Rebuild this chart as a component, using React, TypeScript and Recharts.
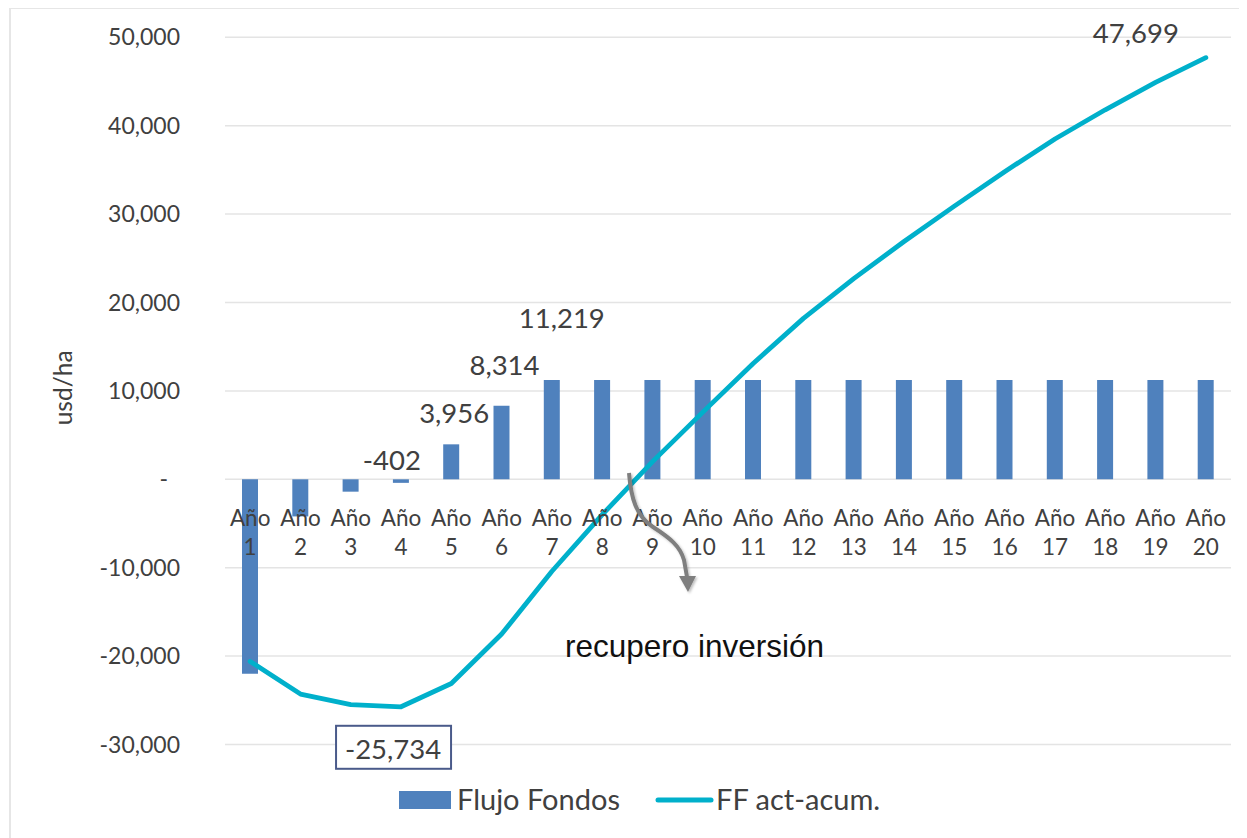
import React from 'react';
import { ComposedChart, Bar, Line, XAxis, YAxis, CartesianGrid, LabelList } from 'recharts';

const categories = [
  'Año 1', 'Año 2', 'Año 3', 'Año 4', 'Año 5', 'Año 6', 'Año 7', 'Año 8', 'Año 9', 'Año 10',
  'Año 11', 'Año 12', 'Año 13', 'Año 14', 'Año 15', 'Año 16', 'Año 17', 'Año 18', 'Año 19', 'Año 20',
];
const flujoFondos = [
  -22000, -4200, -1400, -402, 3956, 8314, 11219, 11219, 11219, 11219,
  11219, 11219, 11219, 11219, 11219, 11219, 11219, 11219, 11219, 11219,
];
const ffActAcum = [
  -20600, -24300, -25500, -25734, -23100, -17500, -10400, -4000, 2000, 7600,
  13100, 18200, 22700, 26900, 30900, 34800, 38500, 41800, 44900, 47699,
];
const yTicks = [-30000, -20000, -10000, 0, 10000, 20000, 30000, 40000, 50000];
const seriesNames = ['Flujo Fondos', 'FF act-acum.'];
const yTitle = 'usd/ha';
const annotationText = 'recupero inversión';

const data = categories.map((name, i) => ({
  name,
  flujo: flujoFondos[i],
  acum: ffActAcum[i],
  base: 0,
}));

const FONT = "Lato, 'Noto Sans', sans-serif";
const TEXT = '#404040';
const BAR = '#4F81BD';
const LINE = '#00B0CB';
const GRID = '#e4e4e4';

const fmt = (v: number) => v.toLocaleString('en-US');

const YTick = (props: any) => {
  const { x, y, payload } = props;
  const v = payload.value;
  return (
    <text x={v === 0 ? x - 12 : x} y={y} dy="0.355em" textAnchor="end" fontFamily={FONT} fontSize={23} fill={TEXT}>
      {v === 0 ? '-' : fmt(v)}
    </text>
  );
};

const CatLabel = (props: any) => {
  const { x, y, index } = props;
  const parts = categories[index].split(' ');
  return (
    <g>
      <text x={x} y={y + 47} textAnchor="middle" fontFamily={FONT} fontSize={22.5} fill={TEXT}>{parts[0]}</text>
      <text x={x} y={y + 76} textAnchor="middle" fontFamily={FONT} fontSize={22.5} fill={TEXT}>{parts[1]}</text>
    </g>
  );
};

const barLabelShift: Record<number, [number, number]> = { 3: [-9, 9], 4: [3, 21], 5: [3, 31], 6: [10, 52] };

const BarLabel = (props: any) => {
  const { x, y, width, height, value, index } = props;
  const s = barLabelShift[index];
  if (!s) return null;
  const top = Math.min(y, y + height);
  return (
    <text x={x + width / 2 + s[0]} y={top - s[1]} textAnchor="middle" fontFamily={FONT} fontSize={27.5} fill={TEXT}>
      {fmt(value)}
    </text>
  );
};

const AcumLabel = (props: any) => {
  const { x, y, value, index } = props;
  if (index === ffActAcum.length - 1) {
    return (
      <text x={x - 70} y={y - 15} textAnchor="middle" fontFamily={FONT} fontSize={27.5} fill={TEXT}>
        {fmt(value)}
      </text>
    );
  }
  if (value === Math.min(...ffActAcum)) {
    const cx = x - 8;
    return (
      <g>
        <rect x={cx - 57} y={y + 19} width={115} height={43} fill="#ffffff" stroke="#4A5A8A" strokeWidth={2} />
        <text x={cx} y={y + 52} textAnchor="middle" fontFamily={FONT} fontSize={27.5} fill={TEXT}>
          {fmt(value)}
        </text>
      </g>
    );
  }
  return null;
};

const YTitle = (props: any) => {
  const vb = props.viewBox;
  const cx = vb.x + 64;
  const cy = vb.y + vb.height / 2 - 3;
  return (
    <text transform={`translate(${cx},${cy}) rotate(-90)`} textAnchor="middle" fontFamily={FONT} fontSize={24.5} fill={TEXT}>
      {yTitle}
    </text>
  );
};

export default function App() {
  return (
    <div style={{ position: 'relative', width: 1239, height: 830 }}>
      <div
        style={{
          position: 'absolute', left: 1, top: -1, width: 1238, height: 840,
          borderTop: '2px solid #e6e6e6', borderLeft: '2px solid #e6e6e6', boxSizing: 'border-box', pointerEvents: 'none',
        }}
      />
      <ComposedChart width={1239} height={830} data={data} margin={{ top: 29.3, right: 16, bottom: 93.5, left: 0 }}>
        <CartesianGrid vertical={false} stroke={GRID} strokeWidth={1.5} />
        <XAxis dataKey="name" hide />
        <YAxis
          width={217}
          domain={[-30000, 50000]}
          ticks={yTicks}
          tick={<YTick />}
          tickSize={0}
          tickMargin={45}
          axisLine={false}
          tickLine={false}
          label={<YTitle />}
        />
        <Bar dataKey="flujo" name={seriesNames[0]} fill={BAR} barSize={16} isAnimationActive={false}>
          <LabelList dataKey="flujo" content={<BarLabel />} />
        </Bar>
        <Line
          dataKey="base"
          stroke="none"
          dot={false}
          activeDot={false}
          legendType="none"
          isAnimationActive={false}
          label={<CatLabel />}
        />
        <Line
          dataKey="acum"
          name={seriesNames[1]}
          type="linear"
          stroke={LINE}
          strokeWidth={4.8}
          strokeLinejoin="round"
          strokeLinecap="round"
          dot={false}
          activeDot={false}
          isAnimationActive={false}
        >
          <LabelList dataKey="acum" content={<AcumLabel />} />
        </Line>
      </ComposedChart>
      <svg
        width={1239}
        height={830}
        style={{ position: 'absolute', left: 0, top: 0, pointerEvents: 'none', overflow: 'visible' }}
      >
        <defs>
          <filter id="sh" x="-50%" y="-50%" width="200%" height="200%">
            <feDropShadow dx="1.5" dy="1.5" stdDeviation="1.2" floodColor="#000" floodOpacity="0.25" />
          </filter>
        </defs>
        <g filter="url(#sh)">
          <path
            d="M621,465 C623,490 628,508 645,519 C662,530 672,538 676,552 L679,569"
            fill="none"
            stroke="#7F7F7F"
            strokeWidth={4}
          />
          <polygon points="671,568 688,568 680,584" fill="#7F7F7F" />
        </g>
        <text x={557} y={649} fontFamily="'Liberation Sans', Arial, sans-serif" fontSize={31.5} fill="#111">
          {annotationText}
        </text>
        <rect x={391} y={783} width={52} height={18} fill={BAR} />
        <text x={449} y={802} fontFamily={FONT} fontSize={29} fill={TEXT}>{seriesNames[0]}</text>
        <line x1={650} y1={792} x2={703} y2={792} stroke={LINE} strokeWidth={5} strokeLinecap="round" />
        <text x={708} y={802} fontFamily={FONT} fontSize={29} fill={TEXT}>{seriesNames[1]}</text>
      </svg>
    </div>
  );
}
